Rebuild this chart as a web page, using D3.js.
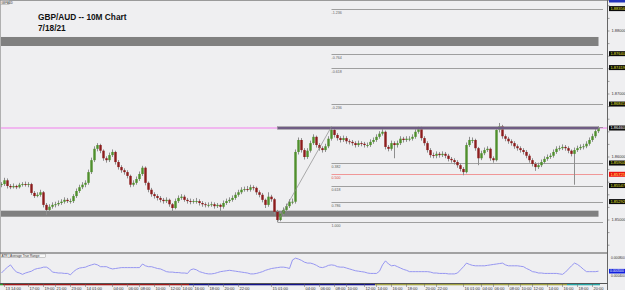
<!DOCTYPE html>
<html>
<head>
<meta charset="utf-8">
<script src="https://cdn.jsdelivr.net/npm/d3@7"></script>
<style>
body { margin: 0; background: #efeff1; }
svg { display: block; }
text { font-family: "Liberation Sans", Arial, sans-serif; }
</style>
</head>
<body>
<svg id="chart" width="625" height="290"></svg>
<script>
// GBP/AUD candles (one bar every ~3px)
const firstOpen = 1.8556;
const closes = [
  1.8557,1.8563,1.8554,1.8552,1.8554,1.8552,1.8556,1.8557,1.8556,1.8557,
  1.8543,1.8538,1.8540,1.8544,1.8524,1.8516,1.8521,1.8524,1.8525,1.8527,
  1.8529,1.8532,1.8530,1.8530,1.8538,1.8546,1.8552,1.8556,1.8559,1.8576,
  1.8595,1.8613,1.8619,1.8610,1.8598,1.8595,1.8603,1.8608,1.8592,1.8584,
  1.8579,1.8576,1.8570,1.8556,1.8559,1.8565,1.8573,1.8583,1.8559,1.8548,
  1.8541,1.8538,1.8535,1.8532,1.8530,1.8532,1.8525,1.8519,1.8530,1.8535,
  1.8537,1.8532,1.8530,1.8529,1.8530,1.8530,1.8527,1.8525,1.8524,1.8524,
  1.8525,1.8522,1.8524,1.8521,1.8527,1.8530,1.8532,1.8535,1.8540,1.8544,
  1.8548,1.8549,1.8548,1.8552,1.8551,1.8544,1.8540,1.8532,1.8524,1.8537,
  1.8533,1.8513,1.8500,1.8510,1.8516,1.8522,1.8529,1.8529,1.8608,1.8627,
  1.8611,1.8600,1.8610,1.8622,1.8632,1.8619,1.8614,1.8611,1.8617,1.8629,
  1.8643,1.8635,1.8630,1.8627,1.8630,1.8625,1.8624,1.8622,1.8619,1.8622,
  1.8621,1.8619,1.8619,1.8624,1.8627,1.8632,1.8637,1.8640,1.8616,1.8613,
  1.8622,1.8619,1.8622,1.8629,1.8627,1.8629,1.8629,1.8632,1.8640,1.8646,
  1.8630,1.8622,1.8611,1.8603,1.8602,1.8605,1.8603,1.8605,1.8602,1.8597,
  1.8595,1.8592,1.8587,1.8581,1.8576,1.8619,1.8627,1.8627,1.8614,1.8598,
  1.8606,1.8611,1.8613,1.8598,1.8595,1.8643,1.8649,1.8633,1.8629,1.8625,
  1.8622,1.8617,1.8614,1.8611,1.8608,1.8602,1.8595,1.8589,1.8584,1.8587,
  1.8592,1.8597,1.8600,1.8602,1.8608,1.8613,1.8614,1.8616,1.8614,1.8610,
  1.8605,1.8611,1.8614,1.8616,1.8617,1.8621,1.8627,1.8633,1.8641,1.8646
];
const highs = [
  1.8560,1.8567,1.8566,1.8557,1.8558,1.8556,1.8559,1.8560,1.8561,1.8560,
  1.8559,1.8546,1.8544,1.8548,1.8546,1.8527,1.8525,1.8528,1.8529,1.8531,
  1.8533,1.8536,1.8535,1.8534,1.8541,1.8550,1.8556,1.8560,1.8563,1.8580,
  1.8599,1.8617,1.8622,1.8621,1.8612,1.8601,1.8607,1.8612,1.8610,1.8595,
  1.8587,1.8582,1.8579,1.8572,1.8563,1.8569,1.8577,1.8586,1.8585,1.8561,
  1.8551,1.8544,1.8541,1.8538,1.8535,1.8536,1.8534,1.8527,1.8534,1.8539,
  1.8541,1.8540,1.8535,1.8534,1.8533,1.8535,1.8533,1.8530,1.8528,1.8528,
  1.8529,1.8528,1.8527,1.8526,1.8531,1.8534,1.8536,1.8539,1.8544,1.8548,
  1.8552,1.8553,1.8554,1.8556,1.8555,1.8553,1.8547,1.8543,1.8534,1.8544,
  1.8540,1.8535,1.8516,1.8514,1.8520,1.8526,1.8533,1.8534,1.8612,1.8631,
  1.8630,1.8614,1.8614,1.8626,1.8636,1.8634,1.8622,1.8617,1.8621,1.8633,
  1.8648,1.8646,1.8638,1.8633,1.8634,1.8633,1.8628,1.8627,1.8625,1.8626,
  1.8625,1.8624,1.8623,1.8628,1.8631,1.8636,1.8641,1.8646,1.8642,1.8619,
  1.8626,1.8625,1.8626,1.8633,1.8632,1.8633,1.8633,1.8636,1.8644,1.8648,
  1.8648,1.8633,1.8625,1.8614,1.8607,1.8609,1.8608,1.8609,1.8608,1.8605,
  1.8600,1.8598,1.8595,1.8590,1.8584,1.8623,1.8632,1.8631,1.8629,1.8616,
  1.8610,1.8615,1.8617,1.8615,1.8601,1.8647,1.8654,1.8651,1.8636,1.8632,
  1.8628,1.8625,1.8620,1.8617,1.8614,1.8611,1.8605,1.8598,1.8592,1.8591,
  1.8596,1.8601,1.8604,1.8606,1.8612,1.8617,1.8618,1.8620,1.8619,1.8617,
  1.8612,1.8615,1.8618,1.8620,1.8621,1.8625,1.8631,1.8637,1.8645,1.8649
];
const lows = [
  1.8552,1.8554,1.8550,1.8549,1.8550,1.8549,1.8550,1.8553,1.8553,1.8552,
  1.8540,1.8535,1.8536,1.8537,1.8520,1.8508,1.8513,1.8518,1.8520,1.8522,
  1.8524,1.8526,1.8527,1.8526,1.8527,1.8535,1.8543,1.8549,1.8552,1.8556,
  1.8573,1.8592,1.8609,1.8606,1.8594,1.8591,1.8592,1.8600,1.8588,1.8580,
  1.8575,1.8572,1.8566,1.8552,1.8553,1.8556,1.8562,1.8570,1.8555,1.8544,
  1.8537,1.8534,1.8531,1.8528,1.8526,1.8527,1.8521,1.8513,1.8517,1.8527,
  1.8532,1.8529,1.8526,1.8525,1.8526,1.8526,1.8523,1.8521,1.8520,1.8520,
  1.8521,1.8518,1.8519,1.8513,1.8518,1.8524,1.8527,1.8529,1.8532,1.8537,
  1.8541,1.8545,1.8545,1.8545,1.8547,1.8540,1.8536,1.8528,1.8519,1.8521,
  1.8529,1.8509,1.8497,1.8498,1.8507,1.8513,1.8519,1.8525,1.8526,1.8604,
  1.8607,1.8596,1.8597,1.8607,1.8619,1.8615,1.8610,1.8607,1.8608,1.8614,
  1.8626,1.8631,1.8626,1.8623,1.8624,1.8621,1.8620,1.8618,1.8615,1.8616,
  1.8617,1.8615,1.8615,1.8616,1.8621,1.8624,1.8629,1.8634,1.8612,1.8609,
  1.8610,1.8598,1.8615,1.8619,1.8623,1.8624,1.8625,1.8626,1.8629,1.8637,
  1.8626,1.8618,1.8607,1.8599,1.8598,1.8598,1.8599,1.8600,1.8598,1.8593,
  1.8591,1.8588,1.8583,1.8577,1.8571,1.8574,1.8616,1.8622,1.8610,1.8587,
  1.8595,1.8603,1.8608,1.8594,1.8591,1.8593,1.8639,1.8629,1.8625,1.8621,
  1.8618,1.8613,1.8610,1.8607,1.8604,1.8598,1.8591,1.8585,1.8578,1.8581,
  1.8584,1.8589,1.8594,1.8597,1.8599,1.8605,1.8610,1.8611,1.8610,1.8606,
  1.8601,1.8556,1.8608,1.8611,1.8612,1.8614,1.8618,1.8624,1.8630,1.8638
];
// ATR in pips, one per bar
const atrPips = [
  4.6,5.3,5.9,6.4,5.5,4.8,4.6,4.3,4.6,4.8,
  5.0,5.4,5.6,5.7,5.9,5.9,5.5,4.8,4.7,4.6,
  4.6,4.5,4.5,4.2,4.9,5.4,5.7,5.8,5.9,6.2,
  6.4,6.6,6.4,6.0,6.0,6.0,5.7,5.5,5.6,5.7,
  5.8,5.8,5.8,5.8,5.8,5.8,5.8,6.6,6.2,6.0,
  6.0,5.8,5.6,5.5,5.2,4.9,4.8,4.8,4.7,4.7,
  4.6,4.6,4.5,5.3,5.5,5.3,4.9,4.7,4.5,4.4,
  4.4,4.5,4.7,4.9,5.0,5.1,5.2,5.1,5.0,4.9,
  4.8,4.7,4.6,4.4,4.4,4.5,4.7,4.9,5.2,5.4,
  5.6,5.7,5.8,5.9,5.9,5.8,5.6,7.5,7.9,7.7,
  7.4,7.0,6.8,6.8,6.6,6.3,5.9,5.8,6.0,6.3,
  6.4,6.3,6.0,5.9,5.9,5.7,5.5,5.3,5.1,5.0,
  4.9,4.8,4.6,4.5,4.5,4.5,5.0,6.4,7.3,6.6,
  6.2,6.3,6.0,5.7,5.4,5.2,4.9,4.9,4.9,4.9,
  4.9,4.9,4.9,4.8,4.6,4.6,4.5,4.5,4.5,4.4,
  4.4,4.4,4.6,5.3,6.0,6.8,6.5,6.3,6.2,6.2,
  6.2,6.2,6.3,6.4,6.5,6.6,6.7,6.8,6.4,6.2,
  6.2,6.2,6.2,6.1,6.0,5.6,5.3,4.9,4.8,4.6,
  4.6,4.5,4.5,4.5,4.5,4.5,4.4,4.3,4.8,5.5,
  6.2,6.8,6.5,6.0,5.4,4.9,4.9,4.9,4.9,5.0
];

const priceTicks = [1.85, 1.86, 1.87, 1.88];
const atrTicks = [4, 8];

// fibonacci drawn from the swing low (bar 92) to the swing high (bar 110)
const fibLowBar = 92, fibHighBar = 110;
const fibLow = 1.84968, fibHigh = 1.86483;
const fibLevels = [-1.236, -0.764, -0.618, -0.236, 0, 0.382, 0.5, 0.618, 0.786, 1];
const fibNames = ["-1.236", "-0.764", "-0.618", "-0.236", "0.000", "0.382", "0.500", "0.618", "0.786", "1.000"];

// grey supply / demand zones
const zoneTops = [1.87905, 1.85148];
const zoneBottoms = [1.87762, 1.85052];
// resistance box and pink line
const resistTop = 1.86481, resistBottom = 1.86440;
const pinkLevel = 1.86460;

// time axis
const timeTickBars = [1, 9, 14, 18, 23, 28, 37, 42, 46, 51, 56, 60, 64, 69, 74, 79, 90,
  101, 106, 111, 115, 121, 125, 130, 135, 141, 145, 154, 160, 164, 169, 173, 177, 182, 187, 192, 197];
const timeTickLabels = ["13 14:00", "17:00", "19:00", "21:00", "23:00", "14 01:00", "04:00", "06:00",
  "08:00", "10:00", "12:00", "14:00", "16:00", "18:00", "20:00", "22:00", "15 01:00",
  "04:00", "06:00", "08:00", "10:00", "12:00", "14:00", "16:00", "18:00", "20:00", "22:00",
  "16 01:00", "04:00", "06:00", "08:00", "10:00", "12:00", "14:00", "16:00", "18:00", "20:00"];
const dayBreakBars = [0, 1, 63, 125, 189, 199];
const dayColors = ["#2a9a2a", "#a01818", "#14148a", "#a4a444", "#2aa8a8"];

const svg = d3.select("#chart");
const axisX = 607.5;
const mainTop = 0.5, mainBottom = 253, atrBottom = 283.5;

const x = d3.scaleLinear().domain([0, closes.length - 1]).range([1.5, 598.5]);
const y = d3.scaleLinear().domain([1.85, 1.88]).range([220, 31]);
const ya = d3.scaleLinear().domain([4, 8]).range([275.7, 257.7]);

const bars = closes.map((c, i) => ({
  i: i, o: i ? closes[i - 1] : firstOpen, h: highs[i], l: lows[i], c: c
}));

svg.append("rect").attr("width", 625).attr("height", 290).attr("fill", "#efeff1");

// zones
svg.selectAll(".zone").data(zoneTops).enter().append("rect")
  .attr("x", 0)
  .attr("y", d => y(d))
  .attr("width", x(closes.length - 1))
  .attr("height", (d, i) => y(zoneBottoms[i]) - y(d))
  .attr("fill", "#808080");

// pink line
svg.append("line")
  .attr("x1", 0).attr("x2", axisX)
  .attr("y1", y(pinkLevel)).attr("y2", y(pinkLevel))
  .attr("stroke", "#f0a4ee").attr("stroke-width", 1.5);

// fib levels
const fibPrice = lv => fibHigh - lv * (fibHigh - fibLow);
const fibRight = x(closes.length - 1) + 4.5;
fibLevels.forEach((lv, k) => {
  const py = Math.round(y(fibPrice(lv))) + 0.5;
  const x0 = (lv === 0 || lv === 1) ? x(fibLowBar) : x(fibHighBar);
  const col = lv === 0.5 ? "#f08080" : "#8a8a8a";
  svg.append("line").attr("x1", x0).attr("x2", fibRight)
    .attr("y1", py).attr("y2", py)
    .attr("stroke", col).attr("stroke-width", 0.8);
  if (lv !== 0) {
    svg.append("text").attr("x", x(fibHighBar)).attr("y", py + 4.2)
      .attr("font-size", 3.6).attr("fill", lv === 0.5 ? "#e04040" : "#606060")
      .text(fibNames[k]);
  }
});

// candles
const g = svg.append("g");
g.selectAll(".wick").data(bars).enter().append("line")
  .attr("x1", d => x(d.i)).attr("x2", d => x(d.i))
  .attr("y1", d => y(d.h)).attr("y2", d => y(d.l))
  .attr("stroke", "#8e8e8e").attr("stroke-width", 1);
g.selectAll(".body").data(bars).enter().append("rect")
  .attr("x", d => x(d.i) - 1.2)
  .attr("width", 2.4)
  .attr("y", d => y(Math.max(d.o, d.c)))
  .attr("height", d => Math.max(0.9, Math.abs(y(d.o) - y(d.c))))
  .attr("fill", d => d.c >= d.o ? "#4f8f2c" : "#8c1c1c");

// resistance box
svg.append("rect")
  .attr("x", x(fibLowBar)).attr("y", y(resistTop))
  .attr("width", x(closes.length - 1) - x(fibLowBar))
  .attr("height", y(resistBottom) - y(resistTop))
  .attr("fill", "#6f5c84").attr("stroke", "#9a9a9a").attr("stroke-width", 0.5);

// swing line of the fib tool
svg.append("line")
  .attr("x1", x(fibLowBar)).attr("y1", y(fibLow))
  .attr("x2", x(fibHighBar)).attr("y2", y(fibHigh))
  .attr("stroke", "#8a8a8a").attr("stroke-width", 0.7);

// panel frame
svg.append("line").attr("x1", 0).attr("x2", 625).attr("y1", mainTop).attr("y2", mainTop)
  .attr("stroke", "#9a9a9a");
svg.append("line").attr("x1", 0.5).attr("x2", 0.5).attr("y1", 0).attr("y2", atrBottom)
  .attr("stroke", "#b0b0b0");
svg.append("line").attr("x1", 0).attr("x2", axisX).attr("y1", mainBottom).attr("y2", mainBottom)
  .attr("stroke", "#555").attr("stroke-width", 1.2);
svg.append("line").attr("x1", axisX).attr("x2", axisX).attr("y1", 0).attr("y2", 290)
  .attr("stroke", "#666");
svg.append("line").attr("x1", 0).attr("x2", axisX).attr("y1", atrBottom).attr("y2", atrBottom)
  .attr("stroke", "#555");

// ATR line
svg.append("path").datum(atrPips)
  .attr("d", d3.line().x((d, i) => x(i)).y(d => ya(d)))
  .attr("fill", "none").attr("stroke", "#8c8cf0").attr("stroke-width", 0.9);

// ATR caption
svg.append("rect").attr("x", 0.5).attr("y", 254).attr("width", 45).attr("height", 3.8)
  .attr("fill", "#f8f8f8").attr("stroke", "#888").attr("stroke-width", 0.4);
svg.append("text").attr("x", 1.5).attr("y", 257.1).attr("font-size", 3.2).attr("fill", "#333")
  .text("ATR | Average True Range");

// chart caption box top left
svg.append("rect").attr("x", 0.5).attr("y", 0.5).attr("width", 9).attr("height", 4)
  .attr("fill", "#f8f8f8").attr("stroke", "#888").attr("stroke-width", 0.4);
svg.append("text").attr("x", 1.2).attr("y", 3.6).attr("font-size", 2.8).attr("fill", "#333")
  .text("GBPAUD");

// title
svg.append("text").attr("x", 38).attr("y", 20).attr("font-size", 8.3).attr("font-weight", "bold")
  .attr("fill", "#111").text("GBP/AUD -- 10M Chart");
svg.append("text").attr("x", 38).attr("y", 31).attr("font-size", 8.3).attr("font-weight", "bold")
  .attr("fill", "#111").text("7/18/21");

// price axis
const pAxis = svg.append("g").attr("transform", `translate(${axisX},0)`);
const minor = d3.range(1.846, 1.8841, 0.002);
pAxis.selectAll(".mt").data(minor).enter().append("line")
  .attr("x1", 0).attr("x2", 2).attr("y1", d => y(d)).attr("y2", d => y(d))
  .attr("stroke", "#666").attr("stroke-width", 0.6);
pAxis.selectAll(".pt").data(priceTicks).enter().append("text")
  .attr("x", 4).attr("y", d => y(d) + 1.4)
  .attr("font-size", 4).attr("fill", "#333")
  .text(d => d.toFixed(5));

function priceTag(py, txt, bg, fg) {
  pAxis.append("rect").attr("x", 1.5).attr("y", py - 2.5).attr("width", 16).attr("height", 5)
    .attr("fill", bg);
  pAxis.append("text").attr("x", 3).attr("y", py + 1.4)
    .attr("font-size", 4).attr("fill", fg).text(txt);
}
fibLevels.forEach(lv => {
  if (lv === 0 || lv === 1) return;
  priceTag(y(fibPrice(lv)), fibPrice(lv).toFixed(5), lv === 0.5 ? "#ee1111" : "#0a0a0a",
    lv === 0.5 ? "#ffee66" : "#e8e830");
});
priceTag(y(closes[closes.length - 1]), closes[closes.length - 1].toFixed(5), "#0a0a0a", "#ffffff");
pAxis.append("rect").attr("x", 1.5).attr("y", -2).attr("width", 16).attr("height", 4.5)
  .attr("fill", "#2233bb");

// ATR axis
pAxis.selectAll(".at").data(atrTicks).enter().append("text")
  .attr("x", 3.5).attr("y", d => ya(d) + 1.3)
  .attr("font-size", 3.3).attr("fill", "#333")
  .text(d => (d / 10000).toFixed(6));
pAxis.append("rect").attr("x", 1.5).attr("y", ya(atrPips[atrPips.length - 1]) - 2.3)
  .attr("width", 16).attr("height", 4.6).attr("fill", "#1020dd");
pAxis.append("text").attr("x", 2.5).attr("y", ya(atrPips[atrPips.length - 1]) + 1.2)
  .attr("font-size", 3.3).attr("fill", "#fff")
  .text((atrPips[atrPips.length - 1] / 10000).toFixed(6));

// day colour stripe under the time axis
dayColors.forEach((c, k) => {
  const a = x(dayBreakBars[k]) - 1.5;
  const b = x(dayBreakBars[k + 1]) + (k === dayColors.length - 1 ? 1.5 : -1.5);
  svg.append("rect").attr("x", a).attr("y", 284).attr("width", b - a).attr("height", 1.3)
    .attr("fill", c);
});

// time axis labels
const tAxis = svg.append("g");
tAxis.selectAll(".tt").data(timeTickBars).enter().append("line")
  .attr("x1", d => x(d)).attr("x2", d => x(d)).attr("y1", 284).attr("y2", 287)
  .attr("stroke", "#666").attr("stroke-width", 0.5);
tAxis.selectAll(".tl").data(timeTickBars).enter().append("text")
  .attr("x", d => x(d) + 1).attr("y", 289.5)
  .attr("font-size", 4).attr("fill", "#333")
  .text((d, i) => timeTickLabels[i]);
</script>
</body>
</html>
